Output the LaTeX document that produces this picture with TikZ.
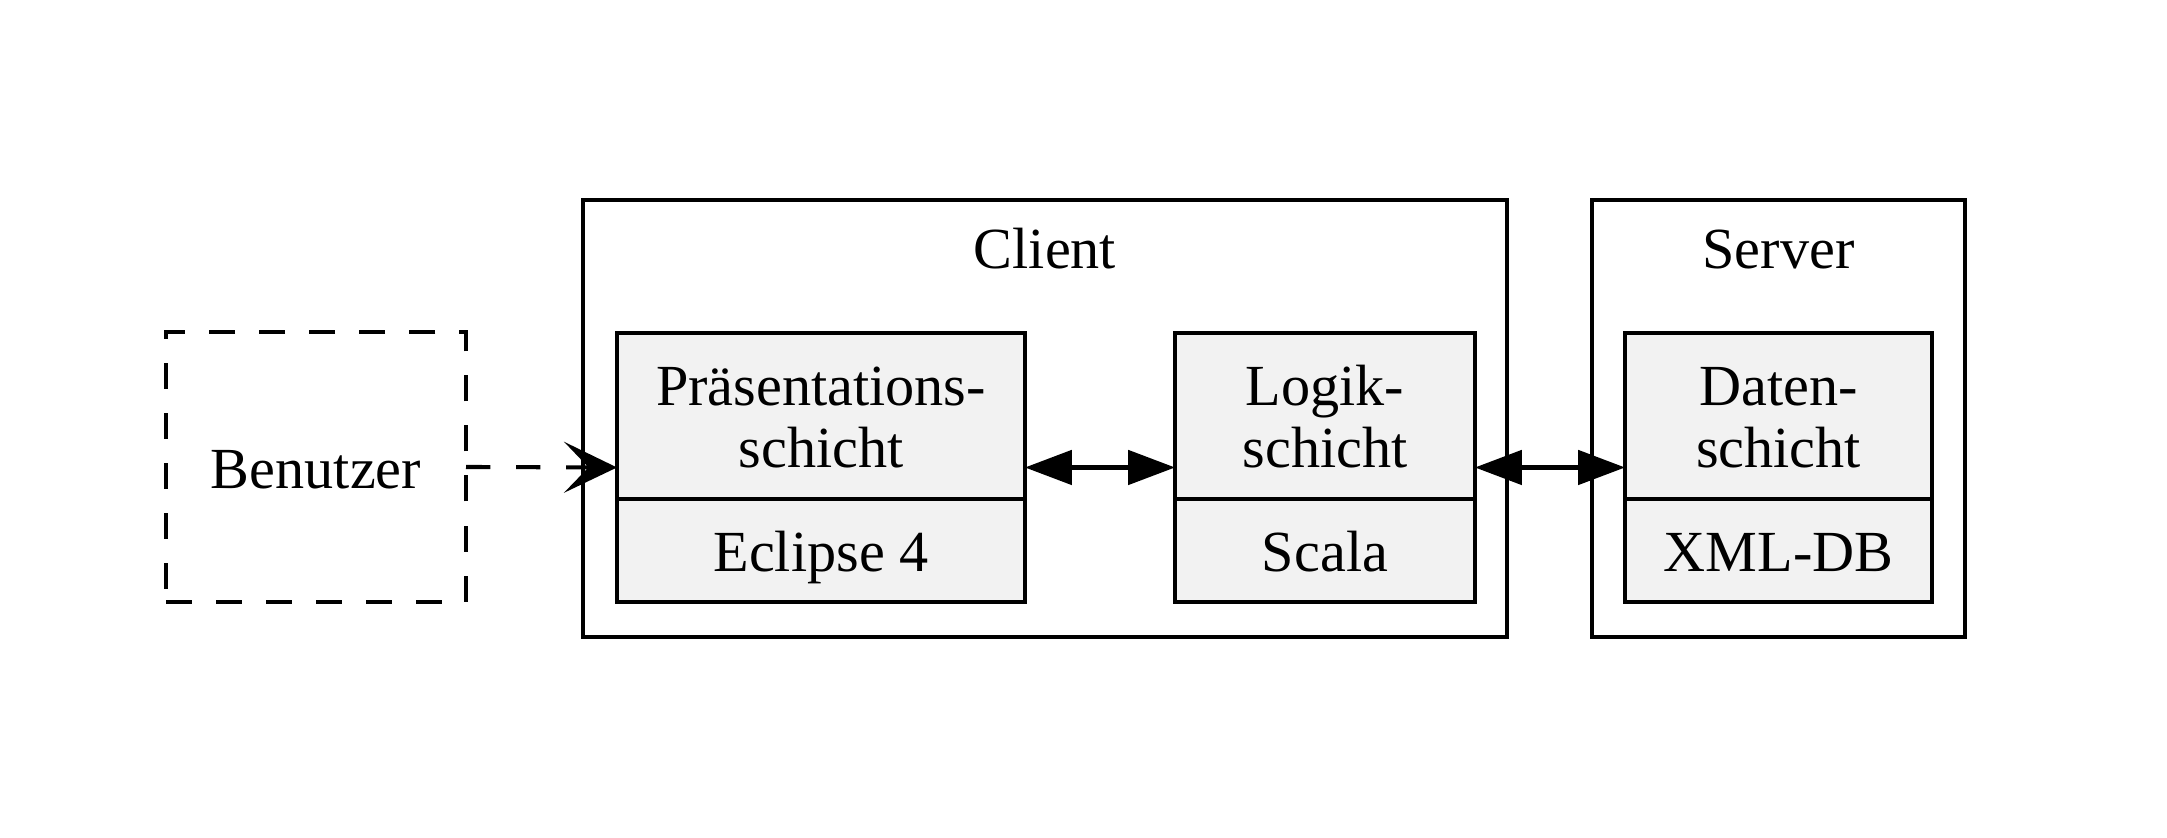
\documentclass[tikz,border=0pt]{standalone}
\usepackage{fontspec}
\setmainfont{Liberation Serif}
\usetikzlibrary{arrows.meta}
\definecolor{gray95}{HTML}{F2F2F2}
\def\u{0.2457pt}
\tikzset{
  every node/.style={font=\fontsize{14.3}{16}\selectfont},
  frame/.style={draw, line width=1pt, inner sep=0pt, outer sep=0pt},
  recbox/.style={frame, fill=gray95},
  userbox/.style={draw, line width=1pt, inner sep=0pt, outer sep=0pt, dash pattern=on 6.4pt off 5.9pt},
  txt/.style={anchor=base, inner sep=0pt},
  dasharrow/.style={line width=1pt, dash pattern=on 6pt off 6.3pt, -{Stealth[length=13pt,width=12.5pt,inset=6pt]}},
  biarrow/.style={line width=1pt, {Triangle[length=11.5pt,width=8.4pt]}-{Triangle[length=11.5pt,width=8.4pt]}},
  divider/.style={line width=1pt},
}
\begin{document}
\begin{tikzpicture}[x=0.2457pt, y=-0.2457pt]
\useasboundingbox (0,0) rectangle (2167,838);

% clusters
\node[frame, minimum width={924*\u}, minimum height={437*\u}] (client) at (1045,418.5) {};
\node[txt] (clientlbl) at (1045,269) {Client};
\node[frame, minimum width={373*\u}, minimum height={437*\u}] (server) at (1778.5,418.5) {};
\node[txt] (serverlbl) at (1778.5,269) {Server};

% user
\node[userbox, minimum width={300*\u}, minimum height={270*\u}] (ben) at (316,467) {};
\node[txt] (bentxt) at (316,489) {Benutzer};

% records
\node[recbox, minimum width={408*\u}, minimum height={269*\u}] (pres) at (821,467.5) {};
\draw[divider] (pres.north west) ++(0,166) -- ++(408,0);
\node[txt] (pres1) at (821,406) {Präsentations-};
\node[txt] (pres2) at (821,468) {schicht};
\node[txt] (pres3) at (821,572) {Eclipse 4};

\node[recbox, minimum width={300*\u}, minimum height={269*\u}] (logik) at (1325,467.5) {};
\draw[divider] (logik.north west) ++(0,166) -- ++(300,0);
\node[txt] (logik1) at (1325,406) {Logik-};
\node[txt] (logik2) at (1325,468) {schicht};
\node[txt] (logik3) at (1325,572) {Scala};

\node[recbox, minimum width={307*\u}, minimum height={269*\u}] (daten) at (1778.5,467.5) {};
\draw[divider] (daten.north west) ++(0,166) -- ++(307,0);
\node[txt] (daten1) at (1778.5,406) {Daten-};
\node[txt] (daten2) at (1778.5,468) {schicht};
\node[txt] (daten3) at (1778.5,572) {XML-DB};

% connectors
\draw[dasharrow] (ben.east) -- (pres.west);
\draw[biarrow] (pres.east) -- (logik.west);
\draw[biarrow] (logik.east) -- (daten.west);
\end{tikzpicture}
\end{document}
